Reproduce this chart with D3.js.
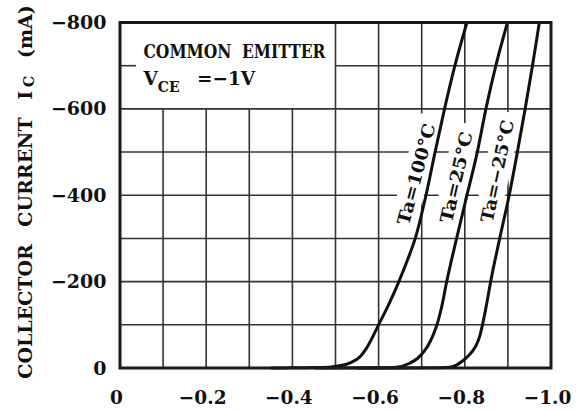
<!DOCTYPE html>
<html><head><meta charset="utf-8">
<script src="https://cdn.jsdelivr.net/npm/d3@7"></script>
<style>html,body{margin:0;padding:0;background:#fff;} svg{display:block}</style>
</head><body>
<svg id="chart" width="588" height="411"></svg>
<script>
// ---- data ----
const xTicks = [0, -0.2, -0.4, -0.6, -0.8, -1.0];
const yTicks = [0, -200, -400, -600, -800];
const xGrid = [-0.1, -0.2, -0.3, -0.4, -0.5, -0.6, -0.7, -0.8, -0.9];
const yGrid = [-100, -200, -300, -400, -500, -600, -700];
const seriesNames = ["Ta=100°C", "Ta=25°C", "Ta=\u221225°C"];
const vbe100 = [-0.35, -0.40, -0.45, -0.49, -0.51, -0.534, -0.557, -0.572, -0.600, -0.625, -0.647, -0.667, -0.685, -0.710, -0.731, -0.753, -0.777, -0.805];
const ic100  = [0, -0.3, -1, -2.5, -5, -12, -26, -46, -100, -150, -200, -250, -300, -400, -500, -600, -700, -800];
const vbe25  = [-0.45, -0.60, -0.642, -0.672, -0.690, -0.705, -0.718, -0.728, -0.737, -0.746, -0.758, -0.781, -0.805, -0.829, -0.849, -0.872, -0.899];
const ic25   = [0, -0.3, -2, -11, -22, -38, -58, -80, -105, -140, -200, -300, -400, -500, -600, -700, -800];
const vbeM25 = [-0.55, -0.72, -0.766, -0.797, -0.810, -0.820, -0.828, -0.835, -0.841, -0.851, -0.860, -0.881, -0.903, -0.922, -0.940, -0.957, -0.973];
const icM25  = [0, -0.3, -2, -18, -30, -42, -56, -75, -100, -150, -200, -300, -400, -500, -600, -700, -800];
const labelV = [-0.687, -0.780, -0.875];
const labelI = [-449, -442, -456];

// ---- layout ----
const x = d3.scaleLinear().domain([0, -1.0]).range([120, 551]);
const y = d3.scaleLinear().domain([0, -800]).range([368, 22.5]);
const svg = d3.select("#chart");
const FONT = "'DejaVu Serif', serif";
const gridColor = "#333";

// grid
const grid = svg.append("g").attr("stroke", gridColor).attr("stroke-width", 1.6);
grid.selectAll(".vg").data(xGrid).join("line")
  .attr("x1", d => x(d)).attr("x2", d => x(d))
  .attr("y1", d => d > -0.45 ? y(-600) : y(-800)).attr("y2", y(0));
grid.selectAll(".hg").data(yGrid).join("line")
  .attr("y1", d => y(d)).attr("y2", d => y(d))
  .attr("x1", d => d < -650 ? x(-0.5) : x(0)).attr("x2", x(-1.0));
grid.append("line").attr("x1", x(0)).attr("x2", x(0) + 16)
  .attr("y1", y(-700)).attr("y2", y(-700));

// label backgrounds + labels
const labData = seriesNames.map((n, i) => ({n, v: labelV[i], c: labelI[i]}));
const labAngles = [-75, -77, -78];
const labLens = [104, 93, 104];
const lab = svg.append("g").selectAll("g").data(labData).join("g")
  .attr("transform", (d, i) => `translate(${x(d.v)},${y(d.c)}) rotate(${labAngles[i]})`);
lab.append("rect")
  .attr("x", (d, i) => -labLens[i] / 2 - 8).attr("y", -13)
  .attr("width", (d, i) => labLens[i] + 16).attr("height", 26)
  .attr("fill", "#fff");

// curves
const line = d3.line().x(d => x(d[0])).y(d => y(d[1])).curve(d3.curveMonotoneX);
const series = [d3.zip(vbe100, ic100), d3.zip(vbe25, ic25), d3.zip(vbeM25, icM25)];
svg.append("g").selectAll("path").data(series).join("path")
  .attr("d", line).attr("fill", "none").attr("stroke", "#111")
  .attr("stroke-width", 3).attr("stroke-linejoin", "round");

lab.append("text")
  .attr("text-anchor", "middle").attr("dy", "0.36em")
  .attr("font-family", FONT).attr("font-size", 17.5).attr("font-weight", "bold").attr("fill", "#111")
  .attr("textLength", (d, i) => labLens[i]).attr("lengthAdjust", "spacingAndGlyphs")
  .text(d => d.n);

// frame
svg.append("rect")
  .attr("x", x(0)).attr("y", y(-800))
  .attr("width", x(-1.0) - x(0)).attr("height", y(0) - y(-800))
  .attr("fill", "none").attr("stroke", "#1a1a1a").attr("stroke-width", 3);

// axes
const fmtX = d => d === 0 ? "0" : d3.format(".1f")(d);
const xAxis = svg.append("g").attr("transform", `translate(0,${y(0)})`)
  .call(d3.axisBottom(x).tickValues(xTicks).tickSize(0).tickPadding(22.5).tickFormat(fmtX));
xAxis.select(".domain").remove();
xAxis.selectAll("text").attr("font-family", FONT).attr("font-size", 18.5)
  .attr("font-weight", "bold").attr("fill", "#111").attr("dx", -4);

const yAxis = svg.append("g").attr("transform", `translate(${x(0)},0)`)
  .call(d3.axisLeft(y).tickValues(yTicks).tickSize(0).tickPadding(13.5).tickFormat(d3.format("d")));
yAxis.select(".domain").remove();
yAxis.selectAll("text").attr("font-family", FONT).attr("font-size", 19)
  .attr("font-weight", "bold").attr("fill", "#111");

// y title
const yt = svg.append("text")
  .attr("transform", "translate(31.5,192) rotate(-90)")
  .attr("text-anchor", "middle")
  .attr("font-family", FONT).attr("font-size", 19).attr("font-weight", "bold")
  .attr("fill", "#111").attr("word-spacing", 11);
yt.append("tspan").text("COLLECTOR CURRENT I");
yt.append("tspan").attr("font-size", 14).attr("dy", 2).attr("dx", 4).text("C");
yt.append("tspan").attr("dy", -2).text(" (mA)");

// legend text
svg.append("text").attr("x", 143.5).attr("y", 58.3)
  .attr("font-family", FONT).attr("font-size", 18.5).attr("font-weight", "bold")
  .attr("fill", "#111").attr("textLength", 182).attr("lengthAdjust", "spacingAndGlyphs")
  .attr("word-spacing", 6)
  .text("COMMON EMITTER");
const vt = svg.append("text").attr("x", 143.5).attr("y", 85)
  .attr("font-family", FONT).attr("font-size", 18.5).attr("font-weight", "bold").attr("fill", "#111");
vt.append("tspan").text("V");
vt.append("tspan").attr("font-size", 14).attr("dy", 6.5).text("CE");
vt.append("tspan").attr("x", 197).attr("dy", -6.5).text("=\u22121V");
</script>
</body></html>
